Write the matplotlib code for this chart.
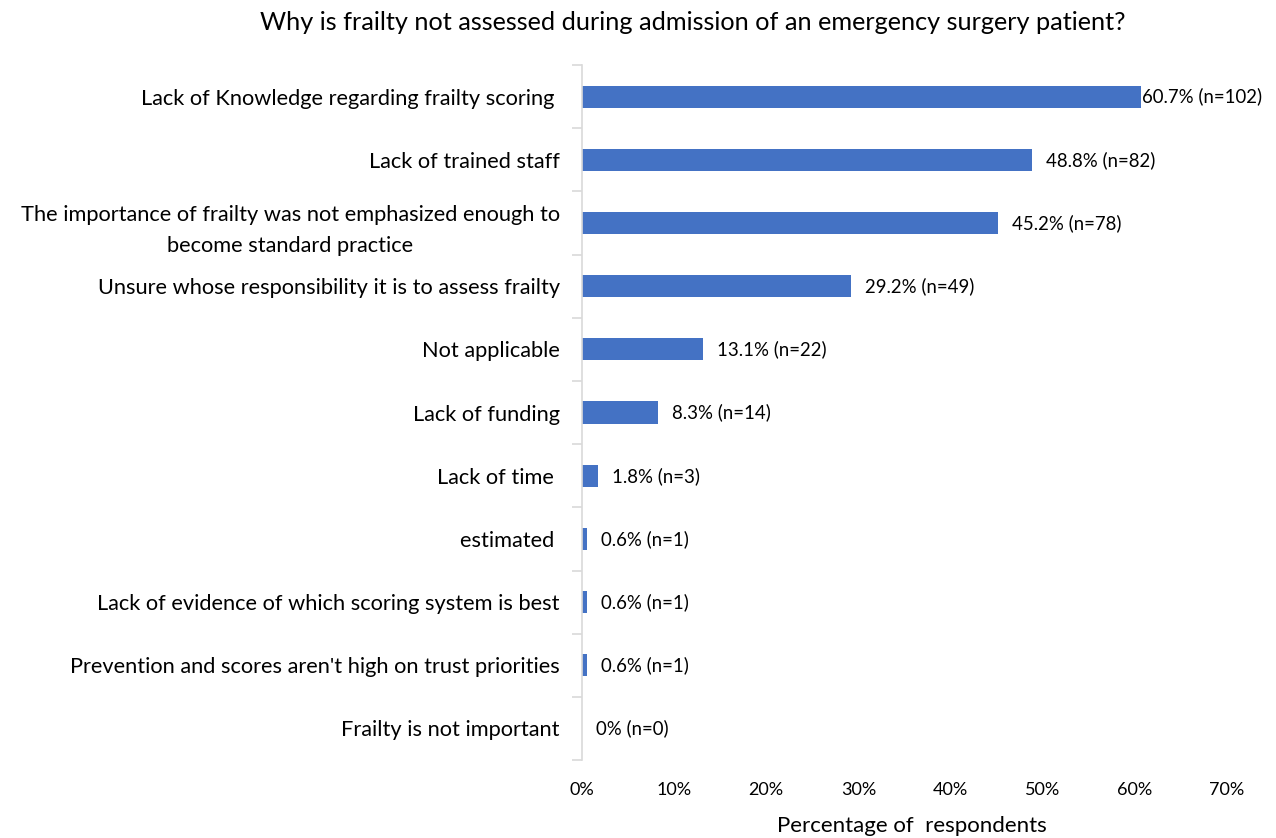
import matplotlib
matplotlib.use("Agg")
import matplotlib.pyplot as plt
from matplotlib.ticker import MultipleLocator, FixedLocator, NullFormatter

plt.rcParams['font.family'] = ['Lato', 'DejaVu Sans']

reasons = [
    "Lack of Knowledge regarding frailty scoring ",
    "Lack of trained staff",
    "The importance of frailty was not emphasized enough to\nbecome standard practice",
    "Unsure whose responsibility it is to assess frailty",
    "Not applicable",
    "Lack of funding",
    "Lack of time ",
    "estimated ",
    "Lack of evidence of which scoring system is best",
    "Prevention and scores aren't high on trust priorities",
    "Frailty is not important",
]
percent = [60.7, 48.8, 45.2, 29.2, 13.1, 8.3, 1.8, 0.6, 0.6, 0.6, 0]
counts = [102, 82, 78, 49, 22, 14, 3, 1, 1, 1, 0]

blue = '#4472C4'

fig = plt.figure(figsize=(12.76, 8.38), dpi=100)
ax = fig.add_axes([0.456, 0.093, 0.5056, 0.8294])

ypos = list(range(len(reasons)))
ax.barh(ypos, percent, height=0.35, color=blue)
ax.set_ylim(len(reasons) - 0.5, -0.5)
ax.set_xlim(0, 70)

ax.set_yticks(ypos)
ax.set_yticklabels(reasons, fontsize=15.7, linespacing=1.7, multialignment='center')
ax.tick_params(axis='y', length=0, pad=16)
# category separators on the left spine
ax.yaxis.set_minor_locator(FixedLocator([i - 0.5 for i in range(len(reasons) + 1)]))
ax.tick_params(axis='y', which='minor', length=7, width=1.2, color='#d9d9d9')
ax.yaxis.set_minor_formatter(NullFormatter())

ax.xaxis.set_major_locator(MultipleLocator(10))
ax.set_xticklabels([f"{int(t)}%" for t in ax.get_xticks()])
ax.tick_params(axis='x', length=0, labelsize=13, pad=16)

for s in ['top', 'right', 'bottom']:
    ax.spines[s].set_visible(False)
ax.spines['left'].set_color('#d9d9d9')
ax.spines['left'].set_linewidth(1.2)

for y, p, n in zip(ypos, percent, counts):
    pad = 1 if p > 55 else 14
    ax.annotate(f"{p:g}% (n={n})", (p, y), xytext=(pad, 0),
                textcoords='offset pixels', va='center', ha='left', fontsize=13.4)

fig.text(693 / 1276, 1 - 22 / 838, "Why is frailty not assessed during admission of an emergency surgery patient?",
         ha='center', va='center', fontsize=18.2)
fig.text(912 / 1276, 1 - 826 / 838, "Percentage of  respondents",
         ha='center', va='center', fontsize=16)

fig.savefig('out.png', dpi=100)
